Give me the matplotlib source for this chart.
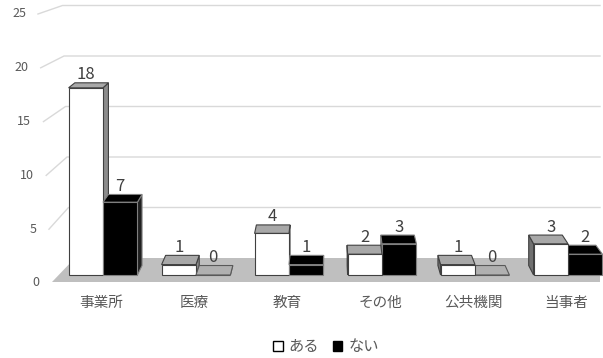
import matplotlib
matplotlib.use('Agg')
import matplotlib.pyplot as plt
from matplotlib.patches import Polygon, Patch

plt.rcParams['font.family'] = ['Noto Sans CJK JP', 'DejaVu Sans']

categories = ['事業所', '医療', '教育', 'その他', '公共機関', '当事者']
aru = [18, 1, 4, 2, 1, 3]
nai = [7, 0, 1, 3, 0, 2]
series_names = ['ある', 'ない']
y_ticks = [0, 5, 10, 15, 20, 25]

# layout is measured in pixels, data is drawn in category / value units
X0, XS = 103, 93.0   # px of category 0, px per category
Y0, YS = 275, 10.4   # px of value 0 (bar front), px per unit


def px(x):
	return (x - X0) / XS


def py(y):
	return (Y0 - y) / YS


# fake perspective: every back point moves a bit towards a vanishing point
VP = (px(330), py(-120))
K = 0.024
W = 0.37


def back(x, y):
	return x + K * (VP[0] - x), y + K * (VP[1] - y)


def draw_bar(ax, x0, v, face, top, side, edge, z):
	x1 = x0 + W
	bl, br = back(x0, 0), back(x1, 0)
	tl, tr = back(x0, v), back(x1, v)
	if x0 + W / 2 < VP[0]:
		side_pts = [(x1, 0), (x1, v), tr, br]
	else:
		side_pts = [(x0, 0), (x0, v), tl, bl]
		if face == 'white':
			side = '#707070'
	ax.add_patch(Polygon(side_pts, closed=True, fc=side, ec=edge, lw=0.8, zorder=z))
	ax.add_patch(Polygon([(x0, v), (x1, v), tr, tl], closed=True, fc=top, ec=edge, lw=0.8, zorder=z))
	ax.bar(x0, v, W, align='edge', color=face, edgecolor=edge, linewidth=0.8, zorder=z)
	ax.annotate(str(v), (x0 + W / 2, tl[1]), xytext=(0, 2.5), textcoords='offset points',
				ha='center', va='baseline', fontsize=12, color='#404040', zorder=20)


fig = plt.figure(figsize=(6.03, 3.58), dpi=100)
ax = fig.add_axes([0, 0, 1, 1])
ax.set_xlim(px(0), px(603))
ax.set_ylim(py(358), py(0))
ax.axis('off')

# gridlines on the back wall, slanted at the left end
for v in y_ticks[1:]:
	label_y = 283 - 10.76 * v
	back_y = 258 - 10.1 * v
	ax.plot([px(51.7 - 0.55 * v), px(70 - 0.3 * v), px(600)],
			[py(label_y), py(back_y), py(back_y)], color='#d9d9d9', lw=1, zorder=1)
for v in y_ticks:
	ax.text(px(39 - 0.52 * v), py(283 - 10.76 * v), str(v), ha='right', va='center',
			fontsize=9, color='#595959')

# floor
ax.add_patch(Polygon([(px(52), py(282)), (px(75), py(258)), (px(600), py(258)), (px(600), py(282))],
					 closed=True, fc='#bfbfbf', ec='none', zorder=2))

for i, cat in enumerate(categories):
	bars = [
		(i - W, aru[i], 'white', '#a8a8a8', '#8c8c8c', '#404040'),
		(i, nai[i], 'black', 'black' if nai[i] > 0 else '#b0b0b0', '#202020',
		 '#7f7f7f' if nai[i] > 0 else '#595959'),
	]
	# the bar farther from the vanishing point goes first
	bars.sort(key=lambda b: -abs(b[0] + W / 2 - VP[0]))
	for z, b in enumerate(bars):
		draw_bar(ax, *b, z=3 + z)
	ax.text(i - 0.02, py(303), cat, ha='center', va='center', fontsize=10.5, color='#595959')

handles = [Patch(fc='white', ec='black', lw=1), Patch(fc='black', ec='black')]
fig.legend(handles, series_names, loc='center', bbox_to_anchor=(326 / 603, 1 - 347 / 358), ncol=2,
		   frameon=False, fontsize=11, handlelength=0.6, handleheight=0.6, handletextpad=0.4,
		   columnspacing=0.9, labelcolor='#595959')

fig.savefig('out.png', dpi=100)
